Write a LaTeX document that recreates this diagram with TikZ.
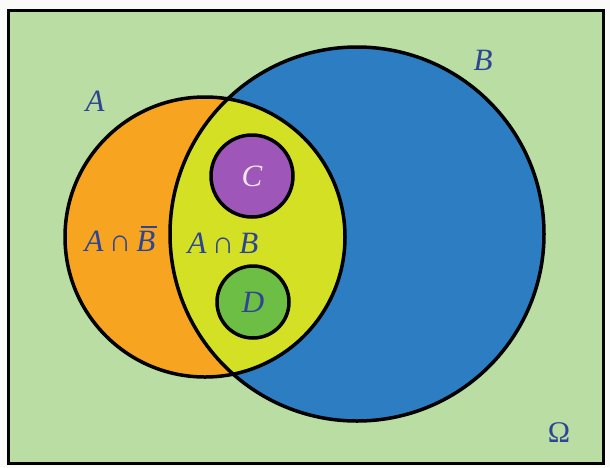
\documentclass[tikz,border=0pt]{standalone}
\usepackage{fontspec}
\setmainfont{Liberation Serif}
\definecolor{bgwhite}{HTML}{FAFAF8}
\definecolor{omegagreen}{HTML}{B9DDA2}
\definecolor{bblue}{HTML}{2D7DC3}
\definecolor{aorange}{HTML}{F7A520}
\definecolor{lensyellow}{HTML}{D3E024}
\definecolor{cpurple}{HTML}{9E57B8}
\definecolor{dgreen}{HTML}{6DBE45}
\definecolor{txtblue}{HTML}{2E4593}
\newcommand{\barB}{{\rlap{\hspace{0.14em}\rule[0.76em]{0.52em}{0.07em}}B}}
\begin{document}
\begin{tikzpicture}[x=1pt,y=-1pt,line width=3.5pt,
  lbl/.style={text=txtblue,font=\fontsize{31}{36}\selectfont\itshape,inner sep=0pt},
  setline/.style={draw=black,line width=3.5pt}]
\useasboundingbox (0,0) rectangle (610,467);
\fill[bgwhite] (0,0) rectangle (610,467);
\draw[fill=omegagreen,line width=3pt] (8,10) rectangle (603,463);
% B and A
\fill[bblue] (357,234) circle (187);
\fill[aorange] (205,237) circle (140);
\begin{scope}
  \clip (357,234) circle (187);
  \fill[lensyellow] (205,237) circle (140);
\end{scope}
\draw[setline] (357,234) circle (187);
\draw[setline] (205,237) circle (140);
% C and D
\node[circle,setline,fill=cpurple,minimum size=82pt,inner sep=0pt] (C) at (252,176) {};
\node[circle,setline,fill=dgreen,minimum size=72pt,inner sep=0pt] (D) at (253,302) {};
\node[lbl,text=white!85!cpurple] (Clbl) at (C) {C};
\node[lbl] (Dlbl) at (D) {D};
% labels
\node[lbl] (Albl) at (95,101) {A};
\node[lbl] (Blbl) at (483,60) {B};
\node[lbl,font=\fontsize{30}{34}\selectfont] (Om) at (559,433) {Ω};
\node[lbl] (AnotB) at (120,239) {A{\upshape\,∩\,}\barB};
\node[lbl] (AB) at (223,243) {A{\upshape\,∩\,}B};
\end{tikzpicture}
\end{document}
